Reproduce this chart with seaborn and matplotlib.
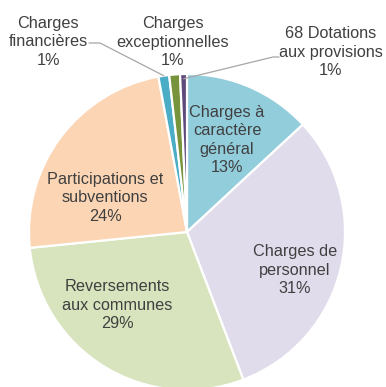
import numpy as np
import matplotlib
matplotlib.use("Agg")
import matplotlib.pyplot as plt
import seaborn as sns

# Budget breakdown (share of total spending, %)
categories = [
    "Charges à\ncaractère\ngénéral",
    "Charges de\npersonnel",
    "Reversements\naux communes",
    "Participations et\nsubventions",
    "Charges\nfinancières",
    "Charges\nexceptionnelles",
    "68 Dotations\naux provisions",
]
shares = [13.1, 31.1, 29.2, 23.7, 1.1, 1.1, 0.7]
colors = ["#92CDDC", "#E1DCEC", "#D7E4BD", "#FCD5B5", "#4BACC6", "#77933C", "#604A7B"]

sns.set_theme(style="white")
plt.rcParams["font.family"] = ["Liberation Sans", "DejaVu Sans"]

W, H = 386, 387
fig = plt.figure(figsize=(W / 100, H / 100), dpi=100)
ax = fig.add_axes([0, 0, 1, 1])

# pie geometry in pixels
cx, cy, R = 187, 232, 158

wedges, _ = ax.pie(
    shares,
    colors=colors,
    startangle=90,
    counterclock=False,
    radius=1.0,
    wedgeprops=dict(edgecolor="white", linewidth=1.6),
)
ax.set_xlim(-cx / R, (W - cx) / R)
ax.set_ylim(-(H - cy) / R, cy / R)
ax.set_aspect("auto")
ax.axis("off")


def px(x, y):
    return (x - cx) / R, (cy - y) / R


# label anchor positions (pixel coords of text centre)
label_pos = [(227, 140), (295, 270), (117, 305), (105, 198), (48, 42), (173, 42), (331, 52)]
txt_color = "#404040"
fs = 11.7
for name, val, (lx, ly) in zip(categories, shares, label_pos):
    x, y = px(lx, ly)
    ax.text(x, y, f"{name}\n{val:.0f}%", ha="center", va="center",
            multialignment="center", fontsize=fs, color=txt_color, linespacing=1.28)


def wedge_tip(w, r=1.0):
    ang = np.deg2rad((w.theta1 + w.theta2) / 2)
    return r * np.cos(ang), r * np.sin(ang)


# leader lines for the thin slices
lc = "#A6A6A6"
tx, ty = wedge_tip(wedges[4])
x0, y0 = px(89, 43)
x1, y1 = px(100, 43)
ax.plot([x0, x1, tx], [y0, y1, ty], color=lc, lw=0.9)

tx, ty = wedge_tip(wedges[6], 0.97)
x0, y0 = px(279, 57)
x1, y1 = px(273, 57)
ax.plot([x0, x1, tx], [y0, y1, ty], color=lc, lw=0.9)

fig.savefig("out.png", dpi=100, facecolor="white")
